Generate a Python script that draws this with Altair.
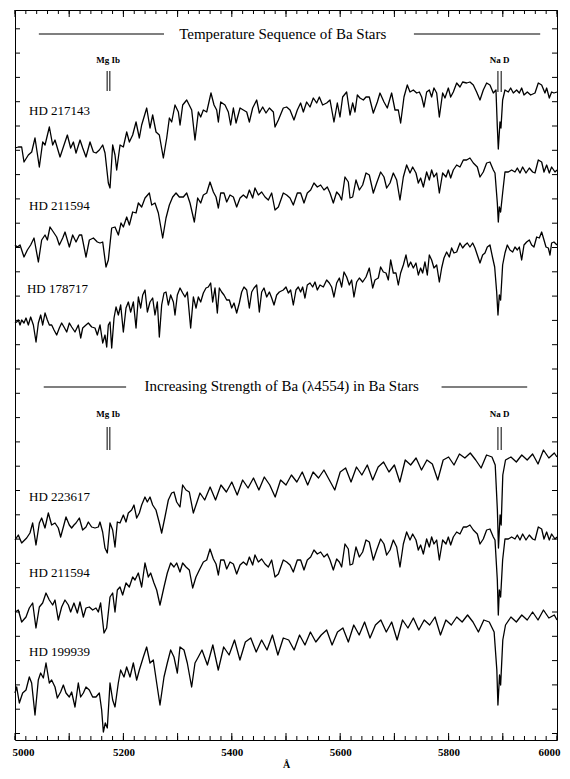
import altair as alt
import pandas as pd

# ---------------- spectra (wavelength in Angstrom, relative flux incl. offset) ----------------
hd217143 = [
    (5000.0,59.2),(5006.2,59.3),(5012.3,59.3),(5016.6,57.8),(5024.6,58.5),(5030.8,58.8),(5036.9,60.2),(5044.9,57.3),
    (5051.1,59.8),(5055.4,59.5),(5063.4,61.3),(5069.5,59.5),(5073.8,60.0),(5083.1,58.3),(5089.2,59.3),(5096.6,60.5),
    (5102.7,59.2),(5107.7,59.8),(5112.6,58.7),(5120.0,60.0),(5124.9,59.2),(5131.0,58.3),(5138.4,59.8),(5144.6,58.8),
    (5149.5,58.7),(5155.6,59.0),(5161.8,59.5),(5166.1,58.7),(5172.2,55.7),(5175.3,55.2),(5180.2,59.5),(5184.5,58.5),
    (5187.6,57.0),(5193.8,59.5),(5199.9,59.3),(5206.1,60.8),(5211.0,59.8),(5217.1,60.5),(5223.3,61.8),(5229.4,60.2),
    (5233.7,61.5),(5243.0,63.2),(5249.1,61.2),(5254.0,62.5),(5260.2,60.8),(5266.3,60.5),(5273.7,58.2),(5279.9,60.2),
    (5284.8,62.2),(5289.1,61.8),(5295.2,63.5),(5301.4,62.8),(5304.5,61.5),(5309.4,63.5),(5316.8,64.0),(5326.0,63.0),
    (5332.1,60.0),(5338.3,62.8),(5342.6,62.3),(5347.5,63.0),(5353.7,62.8),(5361.6,64.7),(5367.2,63.5),(5372.1,63.0),
    (5375.2,61.8),(5379.5,63.8),(5387.5,63.5),(5393.6,62.8),(5397.9,61.5),(5402.9,63.2),(5407.8,61.7),(5415.2,63.2),
    (5421.3,63.0),(5427.5,62.8),(5432.4,61.8),(5438.5,63.2),(5445.9,64.0),(5450.8,62.7),(5457.0,63.3),(5463.1,62.7),
    (5469.3,63.2),(5476.7,62.8),(5479.7,61.3),(5485.9,62.0),
    (5495.0,63.2),(5501.2,63.3),(5507.4,63.0),(5514.7,62.0),(5520.9,63.0),(5527.0,63.7),(5532.0,62.8),(5538.1,63.8),
    (5544.3,63.3),(5550.4,64.2),(5556.6,63.7),(5561.5,64.3),(5567.6,63.5),(5575.0,63.7),(5581.2,64.0),(5588.5,61.8),
    (5594.7,63.7),(5599.6,62.3),(5604.5,64.3),(5611.9,64.8),(5618.1,62.5),(5623.0,63.7),(5627.3,62.8),(5631.6,64.5),
    (5636.5,64.2),(5642.7,64.0),(5647.6,64.3),(5653.7,64.3),(5661.1,62.7),(5668.5,63.8),(5673.4,64.7),(5680.8,63.8),
    (5686.9,63.2),(5694.9,64.7),(5701.1,63.0),(5707.2,63.0),(5711.5,61.7),(5717.7,64.3),(5723.8,65.5),(5728.8,64.8),
    (5734.9,65.0),(5741.1,64.7),(5746.0,64.8),(5750.3,64.3),(5754.6,63.3),(5759.5,64.8),(5764.4,65.0),(5768.7,64.3),
    (5773.0,65.2),(5778.0,64.7),(5782.9,62.3),(5789.0,64.7),(5793.3,64.2),(5799.5,65.2),(5803.8,64.3),(5808.7,64.8),
    (5814.9,65.7),(5821.0,65.3),(5825.9,65.8),(5833.3,65.7),(5839.4,65.8),(5845.6,65.5),(5851.7,64.8),(5857.9,64.0),
    (5864.0,65.0),(5870.2,65.7),(5876.3,65.5),(5882.5,64.7),(5887.4,65.0),(5889.9,61.3),(5891.7,59.1),(5894.8,61.8),
    (5896.6,61.2),(5899.7,64.0),(5904.0,65.0),(5910.2,64.8),(5914.5,65.2),(5919.4,64.7),(5925.5,65.0),(5930.5,64.7),
    (5934.8,65.2),(5939.1,64.5),(5945.2,64.8),(5951.4,64.5),(5959.4,64.7),(5965.5,65.7),(5971.7,65.5),(5977.8,64.7),
    (5980.9,65.2),(5985.8,64.2),(5990.1,64.8),(5994.4,64.7),(6000.0,64.8),
]

hd211594_a = [
    (5000.0,49.5),(5004.3,49.3),(5009.3,49.5),(5016.6,48.3),(5022.8,49.0),(5028.9,49.5),(5035.1,50.2),(5043.1,47.8),
    (5049.2,50.0),(5055.4,50.5),(5059.7,50.0),(5064.6,51.3),(5070.8,50.8),(5076.9,50.3),(5081.8,49.5),(5088.0,50.2),
    (5092.3,50.8),(5100.3,49.3),(5106.4,50.5),(5112.6,49.8),(5118.7,50.5),(5123.0,50.5),(5131.0,48.3),(5137.2,50.0),
    (5144.6,50.2),(5151.9,49.8),(5156.9,49.7),(5161.8,49.8),(5167.9,47.3),(5172.2,48.0),(5178.4,51.2),(5184.5,51.3),
    (5190.7,50.5),(5195.6,51.7),(5199.9,51.3),(5206.1,52.3),(5211.0,51.5),(5217.1,52.8),(5223.3,52.7),(5227.6,53.7),
    (5233.7,53.3),(5239.9,54.2),(5247.9,54.7),(5252.2,53.5),(5258.3,53.7),(5264.5,52.7),(5272.5,50.2),(5278.6,52.2),
    (5284.8,53.5),(5290.9,54.3),(5297.1,54.7),(5303.2,54.3),(5310.6,54.3),(5316.8,54.7),(5322.9,53.7),(5330.9,51.8),
    (5337.0,54.2),(5342.6,53.7),(5347.5,54.5),(5353.7,54.7),(5359.8,55.8),(5366.0,54.8),(5370.9,54.3),(5375.2,53.2),
    (5379.5,54.7),(5385.6,54.7),(5390.6,53.8),(5396.7,54.5),(5402.9,54.3),(5409.0,53.3),(5415.2,54.2),(5421.3,54.5),
    (5427.5,54.2),(5432.4,55.0),(5438.5,54.2),(5442.8,55.2),(5449.0,54.5),(5455.1,54.8),(5461.3,54.3),(5467.4,54.0),
    (5473.6,54.7),(5479.7,53.0),(5485.9,53.3),
    (5495.0,54.7),(5501.2,54.5),(5507.4,54.2),(5513.5,53.5),(5520.9,54.7),(5527.0,54.7),(5533.2,53.7),(5539.3,54.7),
    (5545.5,55.0),(5551.6,55.7),(5557.8,55.3),(5563.9,55.5),(5570.1,55.0),(5576.2,55.3),(5581.2,54.7),(5587.3,53.7),
    (5593.5,54.8),(5598.4,54.5),(5602.7,54.0),(5608.8,56.3),(5615.0,55.8),(5618.1,54.2),(5623.0,54.3),(5629.1,56.0),
    (5635.3,55.0),(5641.4,55.5),(5647.6,56.7),(5653.7,56.5),(5661.1,54.7),(5667.3,55.7),(5674.6,56.8),(5680.8,56.3),
    (5685.7,55.2),(5691.9,55.7),(5698.0,56.7),(5704.2,56.0),(5710.3,54.0),(5716.5,56.3),(5722.6,57.5),(5728.8,56.7),
    (5733.7,57.3),(5739.8,56.7),(5744.1,55.7),(5748.4,56.2),(5753.4,55.3),(5759.5,56.8),(5764.4,56.0),(5768.7,57.0),
    (5773.0,56.3),(5778.0,56.7),(5782.9,54.7),(5789.0,56.7),(5795.2,56.3),(5799.5,57.0),(5803.8,56.2),(5808.7,57.0),
    (5814.9,57.5),(5821.0,57.3),(5827.2,58.0),(5833.3,58.0),(5839.4,58.2),(5845.6,57.7),(5853.0,57.3),(5857.9,56.3),
    (5864.0,56.8),(5870.2,57.7),(5876.3,57.8),(5882.5,57.0),(5885.6,56.7),(5889.9,53.7),(5891.7,51.8),(5893.6,53.3),
    (5896.0,52.8),(5899.7,54.7),(5904.0,56.8),(5910.2,56.8),(5916.3,57.0),(5922.5,56.8),(5926.8,57.2),(5931.7,56.7),
    (5936.6,57.3),(5942.8,56.7),(5948.9,57.2),(5955.1,56.8),(5959.4,56.7),(5965.5,58.0),(5971.7,57.8),(5976.0,56.8),
    (5980.9,57.5),(5985.8,56.7),(5990.1,57.3),(5996.3,56.8),(6000.0,57.0),
]

hd178717 = [
    (5000.0,41.7),(5003.1,41.8),(5006.2,42.0),(5009.3,41.5),(5012.3,42.0),(5016.6,41.7),(5020.3,42.2),(5024.6,41.5),
    (5028.9,42.3),(5033.9,41.5),(5038.8,39.8),(5043.1,41.7),(5047.4,42.5),(5051.1,41.5),(5055.4,42.7),(5059.7,42.0),
    (5063.4,41.5),(5067.7,41.5),(5072.0,41.0),(5076.9,40.5),(5081.8,41.2),(5086.1,41.7),(5090.4,41.3),(5095.4,40.8),
    (5100.3,41.7),(5104.6,41.3),(5110.7,40.8),(5116.9,41.5),(5121.2,40.2),(5124.9,41.2),(5131.0,41.5),(5135.3,41.7),
    (5141.5,41.3),(5147.6,41.2),(5151.9,40.5),(5156.9,41.5),(5161.8,39.7),(5166.1,40.5),(5169.2,39.3),(5172.2,41.5),
    (5175.3,41.8),(5178.4,39.2),(5182.7,42.2),(5186.4,43.3),(5190.7,42.5),(5195.0,43.5),(5199.9,40.8),(5204.8,43.2),
    (5209.1,43.8),(5213.4,42.8),(5218.4,43.8),(5223.3,41.2),(5227.6,44.3),(5231.9,43.2),(5235.6,44.5),(5239.9,45.0),
    (5244.2,42.8),(5249.1,43.8),(5254.0,44.2),(5258.3,42.5),(5262.6,43.8),(5266.3,40.3),(5270.6,43.5),(5274.9,44.7),
    (5278.6,44.8),(5282.9,43.5),(5287.2,44.5),(5292.2,43.8),(5295.2,42.5),(5299.5,44.5),(5304.5,45.2),(5309.4,44.7),
    (5313.7,44.3),(5318.0,44.8),(5324.1,41.2),(5329.1,44.3),(5334.0,43.2),(5338.3,44.3),(5342.6,43.8),(5347.5,44.7),
    (5352.4,45.2),(5356.7,45.3),(5361.0,45.7),(5364.7,43.8),(5369.0,45.2),(5373.3,42.7),(5377.0,45.2),(5381.3,44.8),
    (5385.6,44.5),(5390.6,44.0),(5395.5,44.0),(5399.8,43.2),(5404.1,43.7),(5409.0,42.7),(5413.9,43.7),(5418.2,44.8),
    (5422.5,45.3),(5427.5,45.0),(5432.4,43.2),(5436.7,44.8),(5441.0,45.2),(5445.9,45.5),(5450.8,42.8),(5455.1,44.8),
    (5459.4,45.2),(5464.4,44.3),(5469.3,44.8),(5473.6,44.2),(5477.9,43.5),(5482.8,44.5),(5487.7,44.8),
    (5495.0,45.0),(5500.0,45.3),(5504.3,44.7),(5508.6,45.0),(5513.5,43.5),(5518.4,45.0),(5522.7,45.3),(5527.0,44.8),
    (5530.7,45.3),(5535.0,44.2),(5539.3,45.5),(5544.3,45.7),(5549.2,45.3),(5553.5,45.8),(5557.8,45.0),(5562.7,45.5),
    (5568.9,45.3),(5575.0,46.0),(5579.9,45.7),(5584.2,45.3),(5588.5,44.3),(5593.5,45.7),(5598.4,46.2),(5602.7,45.3),
    (5607.0,46.8),(5611.9,46.3),(5616.8,45.5),(5621.1,46.0),(5625.4,44.3),(5630.4,45.8),(5635.3,46.2),(5641.4,45.8),
    (5647.6,46.3),(5653.7,47.2),(5659.9,45.2),(5664.2,46.0),(5670.3,46.2),(5674.6,47.3),(5679.6,46.8),(5684.5,46.7),
    (5688.8,46.0),(5693.1,48.0),(5698.0,46.7),(5702.9,46.7),(5707.2,45.5),(5711.5,46.7),(5716.5,47.5),(5721.4,48.5),
    (5725.7,47.3),(5730.0,47.8),(5734.9,47.2),(5739.8,47.7),(5744.1,46.5),(5748.4,47.2),(5752.1,46.7),(5756.4,47.8),
    (5760.7,46.5),(5764.4,48.5),(5768.7,48.0),(5773.0,47.2),(5778.0,47.5),(5782.9,45.8),(5787.2,47.2),(5791.5,48.2),
    (5796.4,48.8),(5801.3,48.3),(5805.6,49.2),(5809.9,48.7),(5814.9,48.8),(5821.0,49.7),(5825.9,49.2),(5830.2,49.5),
    (5834.5,49.7),(5839.4,49.3),(5844.4,49.7),(5848.7,49.2),(5853.0,48.5),(5857.9,47.7),(5862.8,48.5),(5867.1,48.7),
    (5871.4,49.3),(5876.3,49.5),(5881.3,48.2),(5885.0,47.3),(5888.7,44.8),(5891.1,42.5),(5893.6,44.5),(5896.0,44.0),
    (5899.7,47.5),(5904.0,48.7),(5908.3,49.5),(5913.2,49.0),(5918.2,48.8),(5922.5,49.3),(5926.8,49.0),(5930.5,49.3),
    (5934.8,48.0),(5939.1,49.5),(5944.0,49.8),(5948.9,50.0),(5953.2,49.5),(5957.5,49.3),(5962.5,50.3),(5967.4,50.2),
    (5971.7,50.8),(5976.0,50.0),(5979.7,49.3),(5984.0,49.2),(5987.1,48.5),(5990.1,49.7),(5994.4,49.8),(6000.0,49.5),
]

hd223617 = [
    (5000.0,20.0),(5006.1,20.5),(5012.3,19.7),(5021.5,20.2),(5027.6,20.7),(5032.6,21.7),(5038.7,19.5),(5044.9,21.7),
    (5049.2,22.2),(5055.3,21.2),(5061.5,22.7),(5067.6,21.5),(5073.8,21.7),(5079.9,21.2),(5084.2,20.3),(5089.2,21.3),
    (5094.1,22.3),(5100.2,21.5),(5104.5,21.2),(5108.8,21.5),(5112.5,21.7),(5118.7,22.2),(5124.8,21.0),(5131.0,21.3),
    (5135.3,21.8),(5141.4,21.3),(5147.6,21.2),(5153.7,21.3),(5156.8,21.8),(5161.7,20.8),(5166.0,19.2),(5170.3,18.7),
    (5175.3,21.7),(5180.2,21.0),(5184.5,19.3),(5188.8,21.8),(5193.7,21.7),(5199.9,22.5),(5204.8,21.8),(5209.1,22.7),
    (5215.2,23.0),(5219.5,23.5),(5224.5,22.2),(5229.4,22.7),(5233.7,23.5),(5239.8,24.3),(5244.1,23.8),(5249.1,24.3),
    (5254.0,23.5),(5260.1,23.0),(5266.3,21.7),(5270.6,20.7),(5276.7,22.3),(5282.9,24.0),(5289.0,24.7),(5293.3,24.8),
    (5298.3,23.8),(5304.4,23.3),(5309.3,25.5),(5315.5,25.0),(5321.6,24.8),(5329.0,22.7),(5335.2,23.7),(5341.3,24.7),
    (5350.0,24.0),(5360.0,25.3),(5370.0,24.0),(5380.0,25.5),(5390.0,24.8),(5400.0,25.8),(5410.0,24.5),(5420.0,26.0),
    (5430.0,25.2),(5440.0,26.2),(5450.0,25.0),(5460.0,26.3),(5470.0,25.5),(5480.0,24.3),(5490.0,26.0),(5500.0,25.5),
    (5510.0,26.5),(5520.0,25.8),(5530.0,26.8),(5540.0,25.5),(5550.0,26.8),(5560.0,26.2),(5570.0,27.0),(5580.0,26.0),
    (5590.0,25.0),(5600.0,26.8),(5610.0,27.2),(5620.0,25.8),(5630.0,27.3),(5640.0,26.5),(5650.0,27.5),(5660.0,26.0),
    (5670.0,27.3),(5680.0,27.8),(5690.0,26.8),(5700.0,27.5),(5710.0,25.8),(5720.0,28.0),(5730.0,27.5),(5740.0,28.2),
    (5750.0,27.0),(5760.0,28.0),(5770.0,27.6),(5780.0,26.0),(5790.0,28.0),(5800.0,28.3),(5810.0,27.5),(5820.0,28.6),
    (5830.0,28.2),(5840.0,28.7),(5850.0,28.0),(5860.0,27.2),(5870.0,28.5),(5880.0,28.3),(5886.0,27.5),(5890.0,23.0),
    (5892.0,19.2),(5895.0,22.5),(5897.0,21.5),(5900.0,26.5),(5905.0,28.0),(5915.0,28.3),(5925.0,27.8),(5935.0,28.5),
    (5945.0,28.0),(5955.0,28.6),(5965.0,27.6),(5975.0,29.0),(5985.0,28.2),(5995.0,28.7),(6000.0,28.3),
]

hd211594_b = [
    (5000.0,12.8),(5006.1,13.0),(5012.3,11.8),(5020.3,12.3),(5026.4,13.2),(5032.6,13.7),(5038.7,11.2),(5044.9,13.3),
    (5051.0,13.7),(5057.2,14.7),(5063.3,14.0),(5069.5,13.5),(5073.8,14.0),(5079.9,12.0),(5086.1,13.3),(5092.2,14.0),
    (5098.4,13.5),(5102.7,12.8),(5108.8,13.7),(5115.0,12.7),(5119.9,13.8),(5126.1,12.3),(5131.0,13.2),(5137.1,13.3),
    (5143.3,13.0),(5149.4,13.2),(5153.7,12.8),(5158.0,13.7),(5164.2,10.7),(5169.1,11.2),(5175.3,14.3),(5180.2,14.7),
    (5184.5,12.8),(5188.8,15.0),(5193.7,15.3),(5198.6,14.5),(5204.8,15.7),(5210.9,15.3),(5217.1,16.3),(5221.4,16.0),
    (5227.5,16.7),(5233.7,15.3),(5239.8,17.7),(5246.0,16.3),(5250.3,16.7),(5256.4,15.7),(5261.4,15.0),(5267.5,13.5),
    (5274.9,15.3),(5281.0,16.7),(5287.2,17.7),(5293.3,17.3),(5298.3,17.7),(5304.4,16.8),(5309.3,17.7),(5315.5,17.3),
    (5321.6,17.0),(5327.8,15.2),(5333.9,16.3),(5340.1,17.0),
    (5347.5,17.8),(5353.7,18.0),(5359.8,19.1),(5366.0,18.1),(5370.9,17.6),(5375.2,16.5),(5379.5,18.0),(5385.6,18.0),
    (5390.6,17.1),(5396.7,17.8),(5402.9,17.6),(5409.0,16.6),(5415.2,17.5),(5421.3,17.8),(5427.5,17.5),(5432.4,18.3),
    (5438.5,17.5),(5442.8,18.5),(5449.0,17.8),(5455.1,18.1),(5461.3,17.6),(5467.4,17.3),(5473.6,18.0),(5479.7,16.3),
    (5485.9,16.6),(5495.0,18.0),(5501.2,17.8),(5507.4,17.5),(5513.5,16.8),(5520.9,18.0),(5527.0,18.0),(5533.2,17.0),
    (5539.3,18.0),(5545.5,18.3),(5551.6,19.0),(5557.8,18.6),(5563.9,18.8),(5570.1,18.3),(5576.2,18.6),(5581.2,18.0),
    (5587.3,17.0),(5593.5,18.1),(5598.4,17.8),(5602.7,17.3),(5608.8,19.6),(5615.0,19.1),(5618.1,17.5),(5623.0,17.6),
    (5629.1,19.3),(5635.3,18.3),(5641.4,18.8),(5647.6,20.0),(5653.7,19.8),(5661.1,18.0),(5667.3,19.0),(5674.6,20.1),
    (5680.8,19.6),(5685.7,18.5),(5691.9,19.0),(5698.0,20.0),(5704.2,19.3),(5710.3,17.3),(5716.5,19.6),(5722.6,20.8),
    (5728.8,20.0),(5733.7,20.6),(5739.8,20.0),(5744.1,19.0),(5748.4,19.5),(5753.4,18.6),(5759.5,20.1),(5764.4,19.3),
    (5768.7,20.3),(5773.0,19.6),(5778.0,20.0),(5782.9,18.0),(5789.0,20.0),(5795.2,19.6),(5799.5,20.3),(5803.8,19.5),
    (5808.7,20.3),(5814.9,20.8),(5821.0,20.6),(5827.2,21.3),(5833.3,21.3),(5839.4,21.5),(5845.6,21.0),(5853.0,20.6),
    (5857.9,19.6),(5864.0,20.1),(5870.2,21.0),(5876.3,21.1),(5882.5,20.3),(5885.6,20.0),(5889.9,16.0),(5891.7,12.5),
    (5893.6,15.0),(5896.0,14.3),(5899.7,18.0),(5904.0,20.1),(5910.2,20.1),(5916.3,20.3),(5922.5,20.1),(5926.8,20.5),
    (5931.7,20.0),(5936.6,20.6),(5942.8,20.0),(5948.9,20.5),(5955.1,20.1),(5959.4,20.0),(5965.5,21.3),(5971.7,21.1),
    (5976.0,20.1),(5980.9,20.8),(5985.8,20.0),(5990.1,20.6),(5996.3,20.1),(6000.0,20.3),
]

hd199939 = [
    (5000.0,4.7),(5003.1,5.3),(5008.0,3.7),(5014.1,4.7),(5020.3,5.0),(5026.4,6.3),(5030.7,5.7),(5036.9,2.5),
    (5043.0,6.0),(5047.3,6.7),(5052.3,6.2),(5057.2,7.7),(5063.3,5.7),(5067.6,6.0),(5073.8,5.3),(5078.1,4.2),
    (5084.2,4.8),(5089.2,5.5),(5094.1,4.7),(5100.2,4.3),(5104.5,4.8),(5110.7,3.3),(5116.8,5.7),(5121.1,4.3),
    (5126.1,4.7),(5131.0,5.3),(5137.1,5.0),(5143.3,4.3),(5149.4,4.3),(5155.6,4.7),(5159.9,3.0),(5163.0,0.8),
    (5166.6,1.7),(5170.3,1.2),(5175.3,5.7),(5180.2,4.0),(5184.5,3.3),(5190.6,5.7),(5194.9,7.0),(5201.1,6.3),
    (5206.0,7.3),(5212.2,6.3),(5218.3,7.7),(5224.5,6.0),(5229.4,7.0),(5236.8,8.3),(5242.9,9.3),(5249.1,7.7),
    (5255.2,8.0),(5261.4,5.7),(5267.5,3.5),(5274.9,6.3),(5281.0,7.7),(5287.2,9.0),(5293.3,8.3),(5299.5,6.7),
    (5304.4,9.3),(5311.8,9.0),(5317.9,7.7),(5325.9,5.3),(5332.1,7.7),(5338.2,8.3),
    (5345.0,9.0),(5355.0,7.5),(5365.0,9.5),(5375.0,7.0),(5385.0,9.3),(5395.0,8.5),(5405.0,10.0),(5415.0,8.0),
    (5425.0,9.8),(5435.0,10.2),(5445.0,8.8),(5455.0,10.0),(5465.0,9.0),(5475.0,10.5),(5485.0,8.5),(5495.0,10.2),
    (5505.0,10.0),(5515.0,9.0),(5525.0,10.5),(5535.0,9.5),(5545.0,10.8),(5555.0,9.8),(5565.0,10.5),(5575.0,11.0),
    (5585.0,9.5),(5595.0,10.8),(5605.0,11.2),(5615.0,9.8),(5625.0,11.5),(5635.0,10.5),(5645.0,11.8),(5655.0,10.2),
    (5665.0,11.5),(5675.0,12.0),(5685.0,10.8),(5695.0,11.8),(5705.0,10.0),(5715.0,12.0),(5725.0,11.2),(5735.0,12.2),
    (5745.0,11.0),(5755.0,12.0),(5765.0,11.5),(5775.0,12.3),(5785.0,10.5),(5795.0,12.0),(5805.0,11.5),(5815.0,12.3),
    (5825.0,11.8),(5835.0,12.5),(5845.0,11.8),(5855.0,10.8),(5865.0,12.0),(5875.0,11.8),(5884.0,10.8),(5889.0,7.0),
    (5891.0,3.5),(5894.0,6.5),(5896.0,5.5),(5900.0,10.0),(5905.0,11.5),(5915.0,12.3),(5925.0,11.8),(5935.0,12.5),
    (5945.0,12.0),(5955.0,12.8),(5965.0,12.0),(5975.0,13.0),(5985.0,12.2),(5995.0,12.5),(6000.0,12.0),
]

series = [("HD 217143", hd217143), ("HD 211594 a", hd211594_a), ("HD 178717", hd178717),
          ("HD 223617", hd223617), ("HD 211594 b", hd211594_b), ("HD 199939", hd199939)]

# star labels (text, wavelength of left edge, flux level)
label_text = ["HD 217143", "HD 211594", "HD 178717", "HD 223617", "HD 211594", "HD 199939"]
label_lam = [5026, 5026, 5022, 5026, 5026, 5026]
label_flux = [62.9, 53.4, 45.1, 24.3, 16.7, 8.8]

# section titles
title_text = ["Temperature Sequence of Ba Stars", "Increasing Strength of Ba (\u03bb4554) in Ba Stars"]
title_lam = [5494, 5492]
title_flux = [70.6, 35.4]
title_line_start = [5044, 5736, 5053, 5787]
title_line_end = [5275, 5969, 5205, 5945]
title_line_flux = [70.6, 70.6, 35.3, 35.3]

# line identifications
ident_text = ["Mg Ib", "Na D", "Mg Ib", "Na D"]
ident_lam = [5172, 5894, 5172, 5894]
ident_flux = [68.0, 68.0, 32.6, 32.6]
marker_lam = [5170, 5175, 5891, 5897, 5170, 5175, 5891, 5897]
marker_lo = [64.9, 64.9, 64.8, 64.8, 29.0, 29.0, 29.0, 29.0]
marker_hi = [66.9, 66.9, 66.9, 66.9, 31.3, 31.3, 31.3, 31.3]

# axis ticks
x_major = list(range(5000, 6001, 100))
x_minor = list(range(5000, 6001, 20))
x_labels = list(range(5000, 6001, 200))
y_ticks = [round(71.12 - 2.43 * k, 2) for k in range(30)]

W, H = 542, 730
FONT = "Liberation Serif"

rows = []
for name, pts in series:
    for lam, fl in pts:
        rows.append({"star": name, "lam": lam, "flux": fl})
spec_df = pd.DataFrame(rows)

xscale = alt.Scale(domain=[5000, 6000], nice=False, zero=False)
yscale = alt.Scale(domain=[0, 73], nice=False, zero=False)
xaxis = alt.Axis(values=x_labels, format="d", ticks=False, domain=False, grid=False,
                 labelFont=FONT, labelFontSize=11, labelFontWeight="bold", labelColor="black",
                 labelPadding=6, labelFlush=True, labelFlushOffset=3,
                 title="\u00c5", titleFont=FONT, titleFontSize=10, titleFontWeight="bold",
                 titleColor="black", titlePadding=2)
X = alt.X("lam:Q", scale=xscale, axis=xaxis)
Y = alt.Y("flux:Q", scale=yscale, axis=None)

lines = alt.Chart(spec_df).mark_line(color="black", strokeWidth=1.3, strokeJoin="round").encode(
    x=X, y=Y, detail="star:N", order="lam:Q")

maj_df = pd.DataFrame({"lam": x_major})
min_df = pd.DataFrame({"lam": x_minor})
tick_bot_min = alt.Chart(min_df).mark_rule(color="black").encode(x=X, y=alt.value(H), y2=alt.value(H - 4))
tick_top_min = alt.Chart(min_df).mark_rule(color="black").encode(x=X, y=alt.value(0), y2=alt.value(4))
tick_bot_maj = alt.Chart(maj_df).mark_rule(color="black").encode(x=X, y=alt.value(H), y2=alt.value(H - 7))
tick_top_maj = alt.Chart(maj_df).mark_rule(color="black").encode(x=X, y=alt.value(0), y2=alt.value(7))

yt_df = pd.DataFrame({"flux": y_ticks})
tick_left = alt.Chart(yt_df).mark_rule(color="black").encode(y=Y, x=alt.value(0), x2=alt.value(5))
tick_right = alt.Chart(yt_df).mark_rule(color="black").encode(y=Y, x=alt.value(W - 5), x2=alt.value(W))

lab_df = pd.DataFrame({"text": label_text, "lam": label_lam, "flux": label_flux})
star_labels = alt.Chart(lab_df).mark_text(align="left", baseline="middle", font=FONT,
                                          fontSize=13, color="black").encode(x=X, y=Y, text="text:N")

tt_df = pd.DataFrame({"text": title_text, "lam": title_lam, "flux": title_flux})
titles = alt.Chart(tt_df).mark_text(align="center", baseline="middle", font=FONT,
                                    fontSize=15, color="black").encode(x=X, y=Y, text="text:N")
tl_df = pd.DataFrame({"lam": title_line_start, "lam2": title_line_end, "flux": title_line_flux})
title_lines = alt.Chart(tl_df).mark_rule(color="black", strokeWidth=1.1).encode(
    x=X, x2=alt.X2("lam2:Q"), y=Y)

id_df = pd.DataFrame({"text": ident_text, "lam": ident_lam, "flux": ident_flux})
idents = alt.Chart(id_df).mark_text(align="center", baseline="middle", font=FONT, fontSize=9,
                                    fontWeight="bold", color="black").encode(x=X, y=Y, text="text:N")
mk_df = pd.DataFrame({"lam": marker_lam, "flux": marker_lo, "flux2": marker_hi})
markers = alt.Chart(mk_df).mark_rule(color="black", strokeWidth=1).encode(x=X, y=Y, y2=alt.Y2("flux2:Q"))

chart = alt.layer(
    lines, tick_bot_min, tick_top_min, tick_bot_maj, tick_top_maj, tick_left, tick_right,
    star_labels, titles, title_lines, idents, markers
).properties(
    width=W, height=H,
    padding={"left": 7, "top": 2, "right": 5, "bottom": 31},
    autosize=alt.AutoSizeParams(type="none"),
    background="white",
).configure_view(stroke="black", strokeWidth=1)

chart.save("out.html", embed_options={"renderer": "svg", "actions": False})
